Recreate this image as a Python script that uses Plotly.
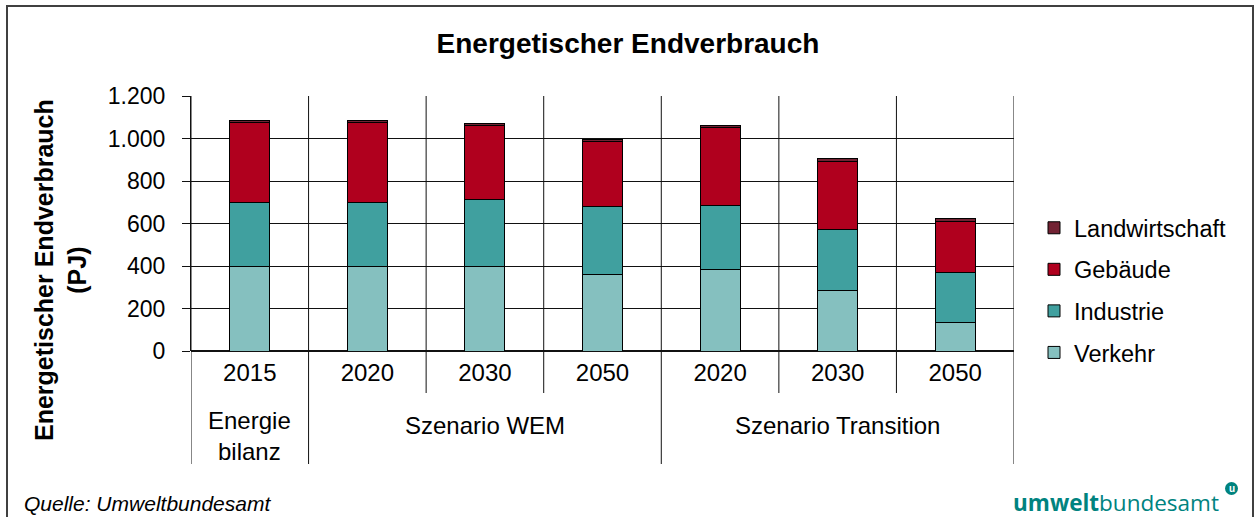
import plotly.graph_objects as go

# Daten (PJ)
years = ["2015", "2020", "2030", "2050", "2020", "2030", "2050"]
groups = ["Energie<br>bilanz", "Szenario WEM", "Szenario Transition"]
group_pos = [0, 2, 5]          # Mitte der Gruppe (Kategorieindex)
group_edges = [-0.5, 0.5, 3.5, 6.5]

verkehr = [400, 398, 400, 362, 384, 287, 135]
industrie = [301, 302, 311, 319, 300, 284, 234]
gebaeude = [372, 376, 349, 303, 367, 323, 241]
landwirtschaft = [10, 11, 11, 13, 11, 10, 12]

y_ticks = [0, 200, 400, 600, 800, 1000, 1200]

FONT = "Liberation Sans, Arial, sans-serif"
W, H = 1255, 517
L, R, T, B = 191, 241, 96, 166
PW, PH = W - L - R, H - T - B


def px(x):
    return (x - L) / PW


def py(y):
    return (H - B - y) / PH


x = list(range(len(years)))
series = [
    ("Verkehr", verkehr, "#85C0BF", 4),
    ("Industrie", industrie, "#40A09F", 3),
    ("Gebäude", gebaeude, "#B0001E", 2),
    ("Landwirtschaft", landwirtschaft, "#722233", 1),
]

fig = go.Figure()
for name, vals, col, rank in series:
    fig.add_trace(go.Bar(
        x=x, y=vals, name=name, legendgroup=name, legendrank=rank,
        width=0.34,
        marker=dict(color=col, line=dict(color="#000000", width=1)),
    ))

shapes = []
# vertikale Trennlinien (Plot + Tabelle darunter)
for k in range(len(years) + 1):
    xb = k - 0.5
    bottom = py(464) if xb in group_edges else py(393)
    shapes.append(dict(type="line", xref="x", yref="paper", x0=xb, x1=xb,
                       y0=bottom, y1=1, line=dict(color="#111111", width=1)))
# Rahmen um die ganze Grafik
shapes.append(dict(type="rect", xref="paper", yref="paper",
                   x0=px(7), x1=px(1253), y0=py(540), y1=py(6),
                   line=dict(color="#404040", width=2)))
# Logo-Kreis
shapes.append(dict(type="circle", xref="paper", yref="paper",
                   x0=px(1225), x1=px(1238), y0=py(495), y1=py(482),
                   fillcolor="#00837F", line=dict(width=0)))

annotations = []
for g, gx in zip(groups, group_pos):
    annotations.append(dict(text=g, x=gx, xref="x", y=py(436) if "<br>" in g else py(425),
                            yref="paper", showarrow=False, yanchor="middle",
                            font=dict(size=24, color="black", family=FONT)))
annotations += [
    dict(text="<b>Energetischer Endverbrauch<br>(PJ)</b>", textangle=-90,
         x=px(60), y=py(270), xref="paper", yref="paper", showarrow=False,
         xanchor="center", yanchor="middle",
         font=dict(size=25, color="black", family=FONT)),
    dict(text="<i>Quelle: Umweltbundesamt</i>", x=px(22), y=py(503),
         xref="paper", yref="paper", xanchor="left", yanchor="middle", showarrow=False,
         font=dict(size=21, color="black", family=FONT)),
    dict(text="<b>umwelt</b>bundesamt", x=px(1221), y=py(502),
         xref="paper", yref="paper", xanchor="right", yanchor="middle", showarrow=False,
         font=dict(size=22.5, color="#00837F", family="Open Sans, sans-serif")),
    dict(text="<b>u</b>", x=px(1231.5), y=py(488.5),
         xref="paper", yref="paper", showarrow=False,
         xanchor="center", yanchor="middle",
         font=dict(size=10, color="white", family=FONT)),
]

fig.update_layout(
    width=W, height=H,
    margin=dict(l=L, r=R, t=T, b=B),
    barmode="stack",
    paper_bgcolor="white", plot_bgcolor="white",
    separators=",.",
    font=dict(family=FONT, color="black"),
    title=dict(text="<b>Energetischer Endverbrauch</b>", x=628 / W, xref="container",
               y=1 - 43 / H, yref="container", xanchor="center", yanchor="middle",
               font=dict(size=28, color="black", family=FONT)),
    xaxis=dict(range=[-0.5, 6.5], tickvals=x, ticktext=years,
               showgrid=False, zeroline=False, showline=False,
               ticks="", ticklabelstandoff=5,
               tickfont=dict(size=24, color="black")),
    yaxis=dict(range=[0, 1200], tickvals=y_ticks, tickformat=",d",
               showgrid=True, gridcolor="#111111", gridwidth=1,
               zeroline=True, zerolinecolor="#111111",
               showline=True, linecolor="#111111", linewidth=1,
               ticks="outside", ticklen=8, tickcolor="#111111",
               ticklabelstandoff=12,
               tickfont=dict(size=23, color="black")),
    legend=dict(x=px(1034), y=py(206), xanchor="left", yanchor="top",
                traceorder="grouped", tracegroupgap=8,
                font=dict(size=23.5, color="black"), bgcolor="rgba(0,0,0,0)"),
    shapes=shapes,
    annotations=annotations,
)

# Seite ohne Body-Rand, damit die Grafik genau im Fenster liegt
fig.write_html("out.html", config={"displayModeBar": False},
               post_script="document.body.style.margin='0';")
